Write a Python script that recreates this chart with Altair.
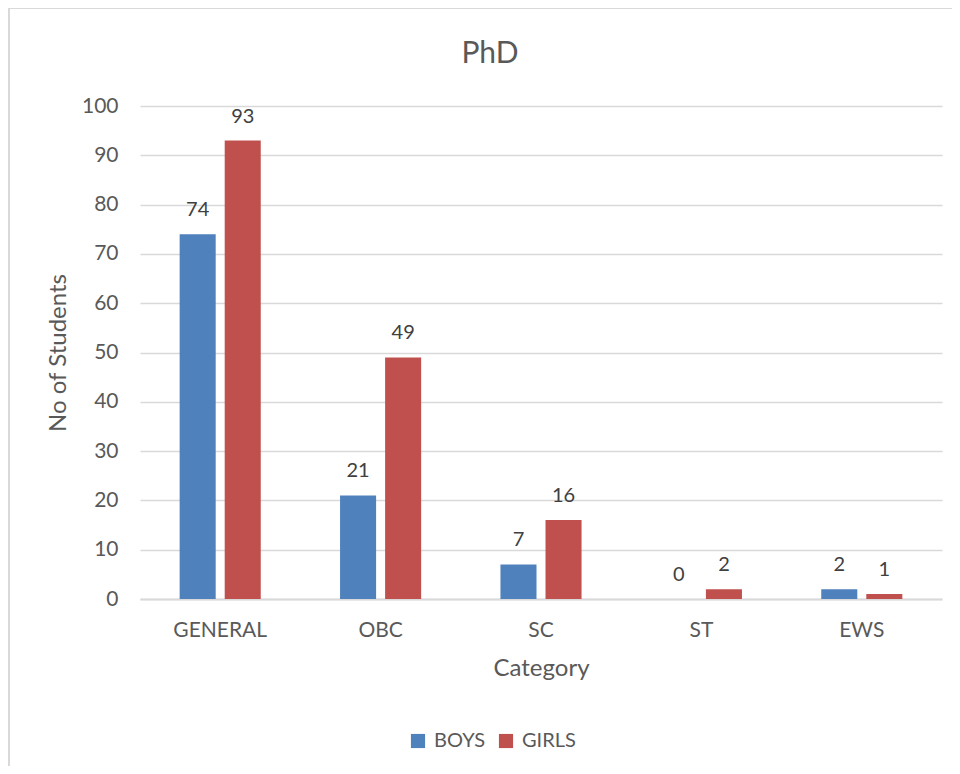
import altair as alt
import pandas as pd

categories = ["GENERAL", "OBC", "SC", "ST", "EWS"]
boys = [74, 21, 7, 0, 2]
girls = [93, 49, 16, 2, 1]
series = ["BOYS", "GIRLS"]
colors = ["#4F81BD", "#C0504D"]
chart_title = "PhD"

rows = []
for c, b, g in zip(categories, boys, girls):
    rows.append({"Category": c, "Gender": "BOYS", "Count": b})
    rows.append({"Category": c, "Gender": "GIRLS", "Count": g})
df = pd.DataFrame(rows)

FONT = "Lato"
TXT = "#595959"

x_enc = alt.X("Category:N", sort=categories,
              scale=alt.Scale(paddingInner=0, paddingOuter=0),
              axis=alt.Axis(title="Category", labelAngle=0, labelFontSize=21,
                            labelPadding=20, titleFontSize=24, titlePadding=16,
                            ticks=False, domainColor="#D9D9D9", domainWidth=2,
                            labelColor=TXT, titleColor=TXT, grid=False))
xo_enc = alt.XOffset("Gender:N", sort=series,
                     scale=alt.Scale(paddingInner=0.2, paddingOuter=0.88))
y_enc = alt.Y("Count:Q", scale=alt.Scale(domain=[0, 100]),
              axis=alt.Axis(title="No of Students", values=list(range(0, 101, 10)),
                            labelFontSize=21, labelPadding=22, titleFontSize=24,
                            titlePadding=11, ticks=False, domain=False,
                            gridColor="#D9D9D9", gridWidth=1.5,
                            labelColor=TXT, titleColor=TXT))

bars = alt.Chart(df).mark_bar().encode(
    x=x_enc, xOffset=xo_enc, y=y_enc,
    color=alt.Color("Gender:N", sort=series,
                    scale=alt.Scale(domain=series, range=colors),
                    legend=alt.Legend(title=None, orient="none", direction="horizontal",
                                      legendX=268, legendY=625, symbolType="square",
                                      symbolSize=200, symbolStrokeWidth=0,
                                      labelFontSize=20, labelColor=TXT,
                                      columnPadding=10, labelOffset=6)),
)

labels = alt.Chart(df).mark_text(fontSize=20, color="#404040", dy=-18,
                                 baseline="alphabetic", font=FONT).encode(
    x=alt.X("Category:N", sort=categories), xOffset=alt.XOffset("Gender:N", sort=series),
    y="Count:Q", text="Count:Q")

title_mark = alt.Chart(pd.DataFrame({"t": [chart_title]})).mark_text(
    fontSize=30, color=TXT, font=FONT, baseline="alphabetic", align="center").encode(
    x=alt.value(350), y=alt.value(-43), text="t:N")

border = alt.Chart(pd.DataFrame({"a": [0]})).mark_rect(
    fill=None, stroke="#D9D9D9", strokeWidth=2).encode(
    x=alt.value(-131), x2=alt.value(900), y=alt.value(-98), y2=alt.value(700))

chart = alt.layer(border, bars, labels, title_mark).properties(
    width=802, height=493,
    autosize=alt.AutoSizeParams(type="none"),
    padding={"left": 132, "top": 98, "right": 10, "bottom": 167},
).configure(font=FONT).configure_view(stroke=None).configure_axis(
    labelFont=FONT, titleFont=FONT, titleFontWeight="normal"
).configure_legend(labelFont=FONT)

chart.save("out.html", embed_options={"renderer": "svg", "actions": False})
